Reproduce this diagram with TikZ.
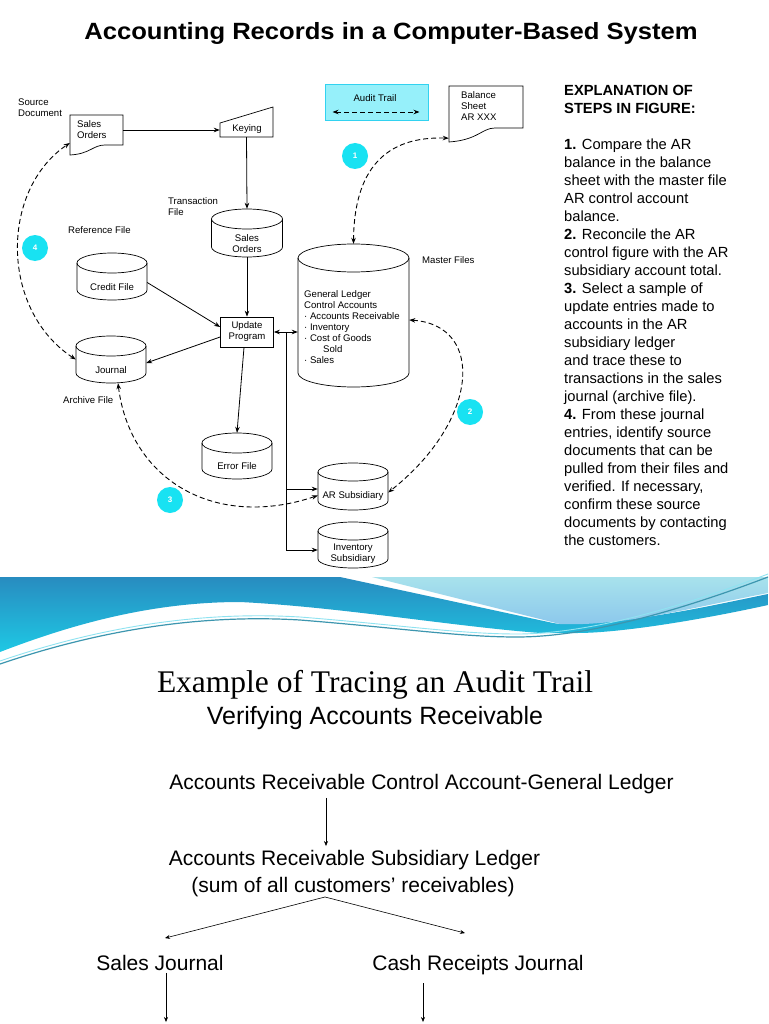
\documentclass[tikz,border=0pt]{standalone}
\usepackage{fontspec}
\setmainfont{Liberation Sans}
\newfontfamily\serifface{Liberation Serif}
\usetikzlibrary{arrows.meta}
\definecolor{stepcyan}{RGB}{24,226,242}
\definecolor{auditfill}{RGB}{150,240,250}
\definecolor{auditedge}{RGB}{50,210,240}
\definecolor{banddark}{RGB}{40,140,192}
\definecolor{bandcyan}{RGB}{30,200,228}
\definecolor{bandlighttop}{RGB}{168,226,236}
\definecolor{bandlightbot}{RGB}{140,200,236}
\definecolor{bandline}{RGB}{60,150,175}
\newcommand{\dbcyl}[6]{%
  \pgfmathsetmacro\cyLx{#2-#4/2}%
  \pgfmathsetmacro\cyRx{#2+#4/2}%
  \pgfmathsetmacro\cyTy{#3+#6}%
  \pgfmathsetmacro\cyBy{#3+#5-#6}%
  \pgfmathsetmacro\cyMy{#3+#5/2}%
  \pgfmathsetmacro\cyRad{#4/2}%
  \node[inner sep=0pt, minimum width=#4pt, minimum height=#5pt] (#1) at (#2,\cyMy) {};
  \draw[cylline] (\cyLx,\cyTy) -- (\cyLx,\cyBy) arc[start angle=180, end angle=360, x radius=\cyRad pt, y radius=#6pt] -- (\cyRx,\cyTy);
  \draw[cylline] (#2,\cyTy) ellipse[x radius=\cyRad pt, y radius=#6pt];
}
\begin{document}
\begin{tikzpicture}[x=1pt,y=-1pt,
  lbl/.style={font=\fontsize{9.6}{11}\selectfont, inner sep=0pt, align=center},
  cylline/.style={line width=0.7pt},
  boxx/.style={draw, line width=0.7pt, fill=white},
  arr/.style={-{Stealth[length=6pt,width=4.5pt]}, line width=0.8pt},
  arrb/.style={{Stealth[length=6pt,width=4.5pt]}-{Stealth[length=6pt,width=4.5pt]}, line width=0.8pt},
  dasharr/.style={{Stealth[length=6pt,width=4.5pt]}-{Stealth[length=6pt,width=4.5pt]}, line width=0.9pt, dash pattern=on 5pt off 3pt},
  stepdot/.style={circle, fill=stepcyan, minimum size=26pt, inner sep=0pt, text=white, font=\fontsize{8}{8}\selectfont\bfseries},
  bigtxt/.style={font=\fontsize{21}{25}\selectfont, inner sep=0pt},
  barr/.style={-{Stealth[length=5pt,width=4pt]}, line width=0.6pt}]
\fill[white] (0,0) rectangle (768,1024);
\useasboundingbox (0,0) rectangle (768,1024);

% decorative band
\shade[top color=banddark, bottom color=bandcyan] (0,577) -- (340,577) -- (553,623) -- (560,624) .. controls (640,622) and (700,608) .. (768,594) -- (768,605) .. controls (700,620) and (620,633) .. (577,633) -- (540,633) .. controls (450,626) and (340,607) .. (240,602) .. controls (150,602) and (70,625) .. (0,652) -- cycle;
\shade[top color=bandlighttop, bottom color=bandlightbot] (372,577) -- (768,577) -- (768,593) .. controls (700,606) and (640,622) .. (583,624) -- (560,624) -- cycle;
\draw[bandline, line width=1.2pt] (0,664) .. controls (100,630) and (200,614) .. (300,620) .. controls (400,628) and (460,637) .. (517,637) .. controls (570,637) and (650,622) .. (768,577);
\draw[bandcyan!50, line width=0.9pt] (0,661) .. controls (100,627) and (200,611) .. (300,617) .. controls (400,625) and (460,634) .. (517,634) .. controls (570,634) and (650,619) .. (768,574);

% title
\node[font=\fontsize{23.5}{28}\selectfont\bfseries, inner sep=0pt] (title) at (391,33) {\scalebox{1.09}[1]{Accounting Records in a Computer-Based System}};

% documents
\node[inner sep=0pt, minimum width=53pt, minimum height=40pt] (salesdoc) at (96.5,135) {};
\draw[boxx] (70,115) -- (123,115) -- (123,145) -- (105,145) .. controls (93,145) and (90,154) .. (70,155) -- cycle;
\node[lbl, align=left, anchor=west] (salesdoctxt) at (77,130) {Sales\\Orders};
\node[inner sep=0pt, minimum width=74pt, minimum height=56pt] (bal) at (486,114) {};
\draw[boxx] (449,86) -- (523,86) -- (523,128) -- (495,128) .. controls (482,128) and (478,140) .. (449,142) -- cycle;
\node[lbl, align=left, anchor=north west] (baltxt) at (461,91) {Balance\\Sheet\\AR XXX};

% keying
\node[inner sep=0pt, minimum width=53pt, minimum height=30pt] (keying) at (246.5,122) {};
\draw[boxx] (220,123) -- (273,107) -- (273,137) -- (220,137) -- cycle;
\node[lbl] (keytxt) at (247,129) {Keying};

% audit trail legend
\node[draw=auditedge, fill=auditfill, line width=1pt, minimum width=103pt, minimum height=36pt, inner sep=0pt] (audit) at (376.5,103) {};
\node[lbl] (audittxt) at (375,98) {Audit Trail};
\draw[dasharr] ([xshift=8pt,yshift=-9pt]audit.west) -- ([xshift=-9pt,yshift=-9pt]audit.east);

% cylinders
\dbcyl{salesord}{247}{209}{71}{48}{10}
\dbcyl{credit}{112}{253}{70}{47}{10}
\dbcyl{journal}{111}{336}{70}{47}{10}
\dbcyl{errorf}{237}{433}{70}{46}{10}
\dbcyl{master}{353.5}{244}{111}{143}{14}
\dbcyl{arsub}{353}{463}{70}{47}{9}
\dbcyl{invsub}{353}{522}{70}{46}{9}
\node[lbl] (salesordtxt) at (247,244) {Sales\\Orders};
\node[lbl] (credittxt) at (112,287) {Credit File};
\node[lbl] (journaltxt) at (111,370) {Journal};
\node[lbl] (errortxt) at (237,466) {Error File};
\node[lbl] (arsubtxt) at (353,496) {AR Subsidiary};
\node[lbl] (invsubtxt) at (353,553.5) {Inventory\\Subsidiary};
\node[lbl, align=left, anchor=north west, font=\fontsize{9.6}{11.1}\selectfont] (mastertxt) at (304,290) {General Ledger\\Control Accounts\\· Accounts Receivable\\· Inventory\\· Cost of Goods\\\hspace*{19pt}Sold\\· Sales};

% update program
\node[draw, line width=0.7pt, fill=white, minimum width=53pt, minimum height=30pt, inner sep=0pt, align=center, font=\fontsize{9.6}{11}\selectfont] (update) at (247,332) {Update\\Program};

% labels
\node[lbl, align=left, anchor=west] (srcdoc) at (18,108) {Source\\Document};
\node[lbl, align=left, anchor=west] (transf) at (168,206.5) {Transaction\\File};
\node[lbl, anchor=west] (reff) at (68,230) {Reference File};
\node[lbl, anchor=west] (masterf) at (422,260) {Master Files};
\node[lbl, anchor=west] (archf) at (63,400) {Archive File};

% step circles
\node[stepdot] (s1) at (355,156) {1};
\node[stepdot] (s2) at (470,412) {2};
\node[stepdot] (s3) at (170,500) {3};
\node[stepdot] (s4) at (35,248) {4};

% connectors
\draw[arr] ([yshift=5pt]salesdoc.east) -- ([yshift=5pt]salesdoc.east -| keying.west);
\draw[arr] (keying.south) -- (salesord.north);
\draw[arr] (salesord.south) -- (update.north);
\draw[arr] ([yshift=-6pt]credit.east) -- ([yshift=5pt]update.west);
\draw[arr] ([yshift=-5pt]update.west) -- ([yshift=-3.5pt]journal.east);
\draw[arr] ([xshift=-3pt]update.south) -- (errorf.north);
\draw[arrb] (update.east) -- (update.east -| master.west);
\coordinate (jtop) at ([xshift=13pt]update.east);
\coordinate (invin) at ([yshift=-5pt]invsub.west);
\coordinate (arin) at ([yshift=-2.5pt]arsub.west);
\draw[arr] (jtop) -- (jtop |- invin) -- (invin);
\draw[arr] (jtop |- arin) -- (arin);

% audit trail dashed curves
\draw[dasharr] (master.north) .. controls (354,170) and (385,136) .. ([yshift=4pt]bal.south west);
\draw[dasharr] ([yshift=-4.5pt]master.east) .. controls (485,325) and (480,420) .. ([yshift=-6pt]arsub.east);
\draw[dasharr] ([xshift=7pt]journal.south) .. controls (130,480) and (215,530) .. ([yshift=-9pt]arsub.west);
\draw[dasharr] (journal.west) .. controls (0,310) and (0,190) .. ([yshift=-8pt]salesdoc.west);

% explanation
\node[anchor=north west, align=left, inner sep=0pt, font=\fontsize{14.7}{18}\selectfont] (expl) at (564,85) {\textbf{EXPLANATION OF}\\\textbf{STEPS IN FIGURE:}\\[18pt]\textbf{1.} Compare the AR\\balance in the balance\\sheet with the master file\\AR control account\\balance.\\\textbf{2.} Reconcile the AR\\control figure with the AR\\subsidiary account total.\\\textbf{3.} Select a sample of\\update entries made to\\accounts in the AR\\subsidiary ledger\\and trace these to\\transactions in the sales\\journal (archive file).\\\textbf{4.} From these journal\\entries, identify source\\documents that can be\\pulled from their files and\\verified. If necessary,\\confirm these source\\documents by contacting\\the customers.};

% lower part
\node[font=\serifface\fontsize{31.5}{36}\selectfont, inner sep=0pt] (ex) at (375,685) {Example of Tracing an Audit Trail};
\node[font=\fontsize{25}{30}\selectfont, inner sep=0pt] (verif) at (375,718) {Verifying Accounts Receivable};
\node[bigtxt] (ctrl) at (421.5,784) {Accounts Receivable Control Account-General Ledger};
\node[bigtxt] (subl) at (354.5,860) {Accounts Receivable Subsidiary Ledger};
\node[bigtxt] (suml) at (353,887) {(sum of all customers’ receivables)};
\node[bigtxt, anchor=base] (salesj) at (160,970.5) {Sales Journal};
\node[bigtxt, anchor=base] (cashj) at (478,970.5) {Cash Receipts Journal};
\draw[barr] ([xshift=-95.5pt,yshift=-4pt]ctrl.south) -- ([xshift=-28.5pt,yshift=4pt]subl.north);
\draw[barr] ([xshift=-28pt]suml.south) -- ([xshift=5pt,yshift=17pt]salesj.north);
\draw[barr] ([xshift=-28pt]suml.south) -- ([xshift=-13pt,yshift=22pt]cashj.north);
\coordinate (sjend) at (166,1022);
\coordinate (cjend) at (423,1022);
\draw[barr] ([xshift=6pt,yshift=-2pt]salesj.south) -- (sjend);
\draw[barr] ([xshift=-55pt,yshift=-8pt]cashj.south) -- (cjend);
\end{tikzpicture}
\end{document}
